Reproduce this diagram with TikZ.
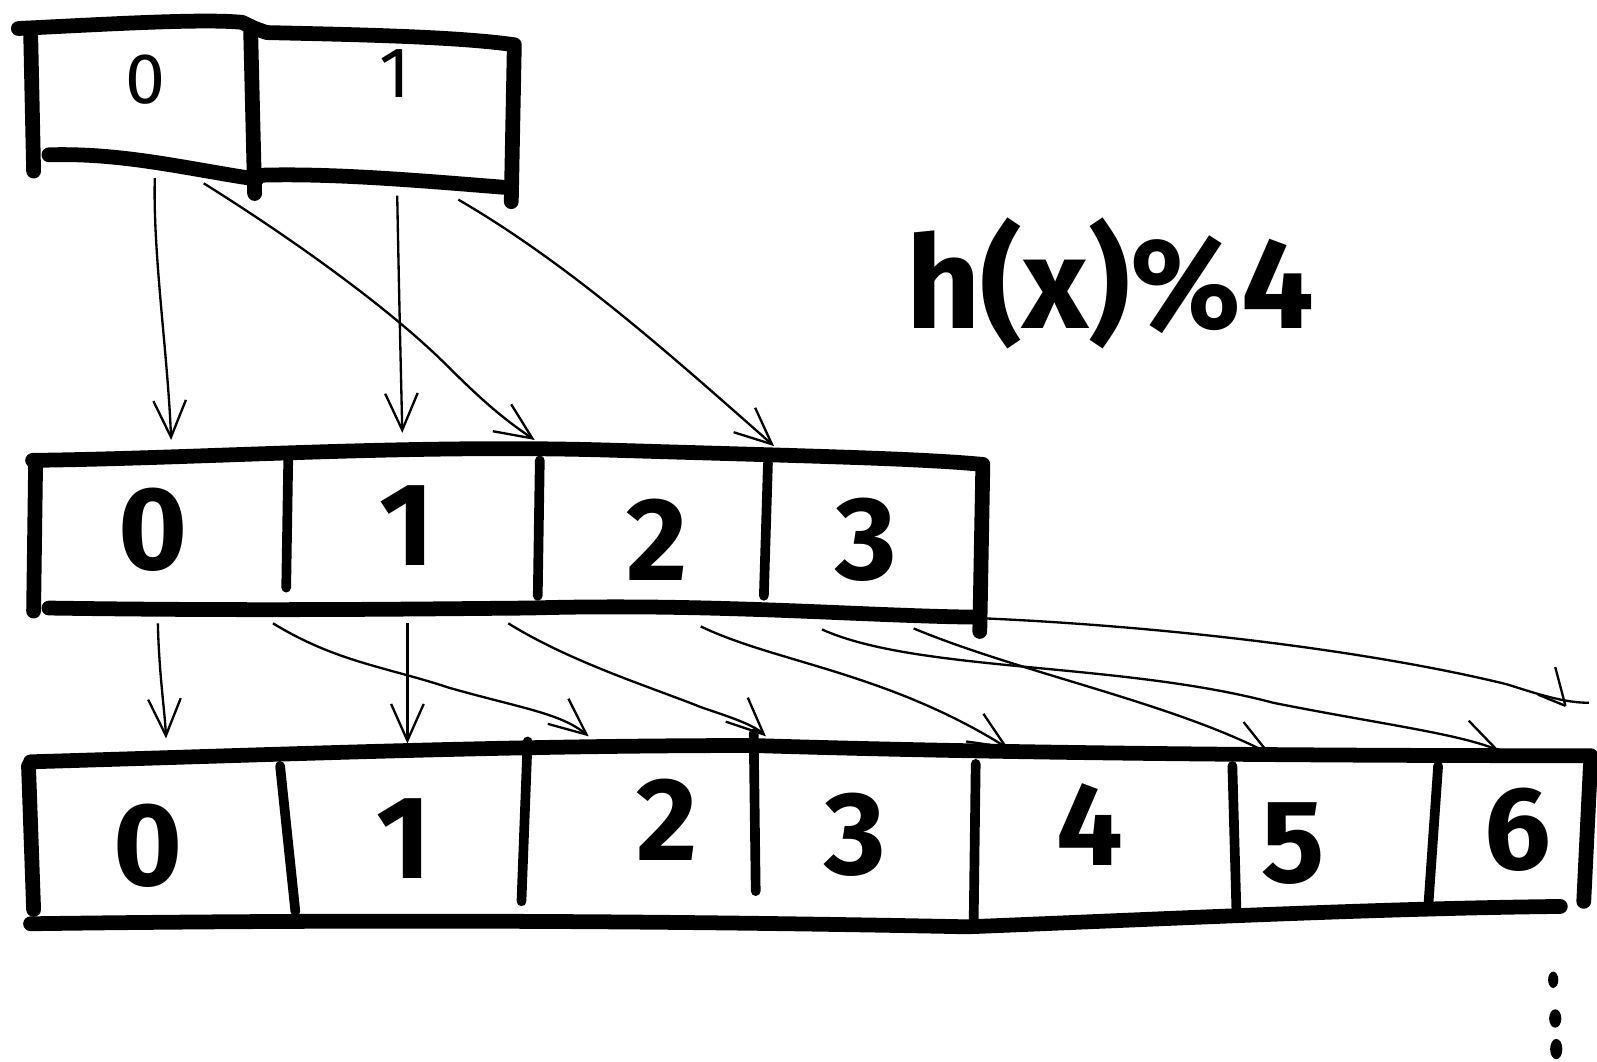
\documentclass[tikz,border=0pt]{standalone}
\usepackage{fontspec}
\setmainfont{Fira Sans}
\usetikzlibrary{arrows.meta}
\begin{document}
\begin{tikzpicture}[x=0.1mm,y=-0.1mm,
  boxline/.style={line width=1.45mm,line cap=round,line join=round},
  divider/.style={line width=0.95mm,line cap=round},
  conn/.style={line width=0.65pt,-{Straight Barb[length=3.6mm,width=3.2mm]}},
  biglabel/.style={font=\fontsize{33}{35}\selectfont\bfseries},
  toplabel/.style={font=\fontsize{20}{22}\selectfont},
  formula/.style={font=\fontsize{36}{40}\selectfont\bfseries}
]
\fill[white] (0,0) rectangle (1568,1042);
\useasboundingbox (0,0) rectangle (1568,1042);

% ---------- top row ----------
\draw[boxline] (18,28) .. controls (100,24) and (200,18) .. (238,22)
  .. controls (250,28) .. (262,32) .. controls (350,34) and (450,36) .. (505,44) -- (502,198);
\draw[boxline] (30,28) -- (33,168);
\draw[boxline] (48,152) .. controls (120,150) and (180,165) .. (252,176);
\draw[boxline] (246,26) -- (250,190);
\draw[boxline] (258,172) .. controls (330,170) and (420,178) .. (496,184);
\node[toplabel] (t0) at (143,78) {0};
\node[toplabel] (t1) at (388,72) {1};

% ---------- middle row ----------
\draw[boxline] (32,452) .. controls (200,450) and (400,436) .. (600,442)
  .. controls (800,448) and (900,450) .. (965,456) -- (962,620);
\draw[boxline] (35,452) -- (33,600);
\draw[boxline] (48,597) .. controls (250,600) and (400,598) .. (520,597)
  .. controls (700,592) and (850,605) .. (962,606);
\draw[divider] (283,452) -- (281,577);
\draw[divider] (530,452) -- (528,585);
\draw[divider] (754,455) -- (750,585);
\node[biglabel] (m0) at (150,520) {0};
\node[biglabel] (m1) at (400,516) {1};
\node[biglabel] (m2) at (645,530) {2};
\node[biglabel] (m3) at (850,530) {3};

% ---------- bottom row ----------
\draw[boxline] (30,748) .. controls (300,740) and (500,732) .. (740,732)
  .. controls (1000,740) and (1300,742) .. (1562,742) -- (1555,885);
\draw[boxline] (28,752) -- (33,893);
\draw[boxline] (30,907) .. controls (400,902) and (700,905) .. (950,910)
  .. controls (1150,902) and (1350,892) .. (1532,890);
\draw[divider] (275,752) -- (290,895);
\draw[divider] (518,728) -- (512,885);
\draw[divider] (740,720) -- (742,875);
\draw[divider] (958,750) -- (956,905);
\draw[divider] (1210,752) -- (1214,895);
\draw[divider] (1412,752) -- (1402,895);
\node[biglabel] (b0) at (145,830) {0};
\node[biglabel] (b1) at (397,823) {1};
\node[biglabel] (b2) at (655,805) {2};
\node[biglabel] (b3) at (840,820) {3};
\node[biglabel] (b4) at (1070,810) {4};
\node[biglabel] (b5) at (1270,828) {5};
\node[biglabel] (b6) at (1490,815) {6};

% ---------- formula and dots ----------
\node[formula] (hx) at (1090,278) {h(x)\%4};
\fill (1525,962) ellipse [x radius=5, y radius=8];
\fill (1527,1000) ellipse [x radius=6, y radius=9];
\fill (1528,1030) ellipse [x radius=6, y radius=10];

% ---------- connector end points ----------
\coordinate (sA1) at (152,175);  \coordinate (eA1) at (168,432);
\coordinate (sA2) at (200,180);  \coordinate (eA2) at (525,432);
\coordinate (sA3) at (390,192);  \coordinate (eA3) at (395,425);
\coordinate (sA4) at (450,196);  \coordinate (eA4) at (760,438);

\coordinate (sB1) at (155,612);  \coordinate (eB1) at (163,725);
\coordinate (sB2) at (268,612);  \coordinate (eB2) at (578,723);
\coordinate (sB3) at (400,612);  \coordinate (eB3) at (400,730);
\coordinate (sB4) at (499,612);  \coordinate (eB4) at (752,723);
\coordinate (sB5) at (688,615);  \coordinate (eB5) at (990,735);
\coordinate (sB6) at (807,618);  \coordinate (eB6) at (1472,737);
\coordinate (sB7) at (897,617);  \coordinate (eB7) at (1248,741);
\coordinate (sB8) at (963,607);  \coordinate (eB8) at (1545,690);
\coordinate (xB8) at (1560,690);

% ---------- connectors top -> middle ----------
\draw[conn] (sA1) .. controls (150,250) and (165,350) .. (eA1);
\draw[conn] (sA2) .. controls (280,230) and (380,300) .. (440,360) .. controls (480,400) and (500,415) .. (eA2);
\draw[conn] (sA3) .. controls (392,300) and (394,380) .. (eA3);
\draw[conn] (sA4) .. controls (560,260) and (660,350) .. (eA4);

% ---------- connectors middle -> bottom ----------
\draw[conn] (sB1) .. controls (156,660) and (162,700) .. (eB1);
\draw[conn] (sB2) .. controls (330,650) and (380,655) .. (440,675) .. controls (510,695) and (550,700) .. (eB2);
\draw[conn] (sB3) -- (eB3);
\draw[conn] (sB4) .. controls (560,650) and (640,675) .. (690,695) .. controls (720,705) and (740,712) .. (eB4);
\draw[conn] (sB5) .. controls (760,650) and (870,660) .. (eB5);
\draw[conn] (sB6) .. controls (900,660) and (1100,650) .. (1250,690) .. controls (1350,710) and (1430,720) .. (eB6);
\draw[conn] (sB7) .. controls (1000,660) and (1150,690) .. (eB7);
\draw[line width=0.65pt] (sB8) .. controls (1150,615) and (1350,640) .. (1480,672) .. controls (1520,685) and (1540,690) .. (xB8);
\draw[line width=0.65pt] (1527,655) -- (1537,693);
\draw[line width=0.65pt] (1510,682) -- (1537,693);
\end{tikzpicture}
\end{document}
